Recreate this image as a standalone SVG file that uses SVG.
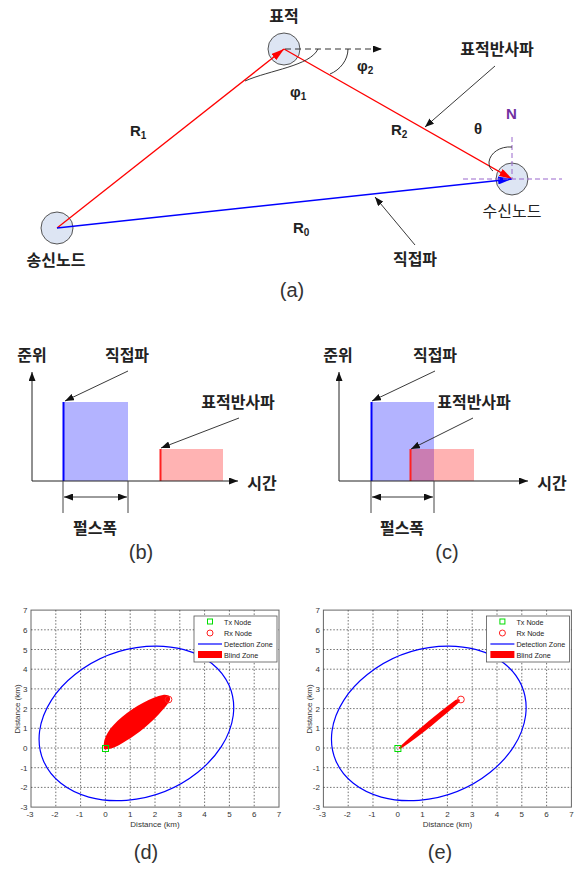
<svg xmlns="http://www.w3.org/2000/svg" width="581" height="870" viewBox="0 0 581 870">
<style>
.ko{font-family:"Noto Sans CJK KR","Noto Sans",sans-serif;font-size:16px;font-weight:bold;fill:#222;text-anchor:middle}
.lat{font-family:"Liberation Sans",Arial,sans-serif;font-weight:bold;font-size:15px;fill:#222}
.cap{font-family:"Liberation Sans",Arial,sans-serif;font-size:20px;fill:#333;text-anchor:middle}
.tick{font-family:"Liberation Sans",Arial,sans-serif;font-size:8px;fill:#333}
.leg{font-family:"Liberation Sans",Arial,sans-serif;font-size:7.2px;fill:#222}
.node{fill:#dde5f3;stroke:#555;stroke-width:1}
.grid{stroke:#333;stroke-width:0.7;stroke-dasharray:1.5 1.8;fill:none}
.ann{stroke:#222;stroke-width:0.9;fill:none}
.ax{stroke:#222;stroke-width:1;fill:none}
</style>
<defs>
<marker id="mr" markerWidth="13" markerHeight="8" refX="13" refY="4" orient="auto" markerUnits="userSpaceOnUse"><path d="M0,0 L13,4 L0,8 Z" fill="#ff0000"/></marker>
<marker id="mb" markerWidth="14" markerHeight="8" refX="14" refY="4" orient="auto" markerUnits="userSpaceOnUse"><path d="M0,0 L14,4 L0,8 Z" fill="#0000ff"/></marker>
<marker id="mk" markerWidth="9" markerHeight="7" refX="9" refY="3.5" orient="auto-start-reverse" markerUnits="userSpaceOnUse"><path d="M0,0 L9,3.5 L0,7 Z" fill="#111"/></marker>
</defs>
<rect width="581" height="870" fill="#fff"/>

<!-- (a) nodes -->
<g id="tx-node">
<circle class="node" cx="57" cy="228" r="16"/>
<text class="ko" x="56" y="266">송신노드</text>
</g>
<g id="target-node">
<circle class="node" cx="284" cy="49" r="16"/>
<text class="ko" x="284" y="22">표적</text>
</g>
<g id="rx-node">
<circle class="node" cx="512" cy="179" r="16"/>
<text class="ko" x="512" y="217" style="font-weight:normal">수신노드</text>
</g>

<g id="connectors">
<line x1="57" y1="228" x2="284" y2="49" stroke="#ff0000" stroke-width="1.3" marker-end="url(#mr)"/>
<line x1="284" y1="49" x2="512" y2="179" stroke="#ff0000" stroke-width="1.3" marker-end="url(#mr)"/>
<line x1="57" y1="228" x2="512" y2="179" stroke="#0000ff" stroke-width="1.6" marker-end="url(#mb)"/>
<line x1="285" y1="49" x2="382" y2="49" stroke="#333" stroke-width="1" stroke-dasharray="6 4" marker-end="url(#mk)"/>
<path d="M245,81 C270,70 310,66 318,49" class="ann"/>
<path d="M348,49 C348,60 340,70 330,74" class="ann"/>
<line x1="512" y1="137" x2="512" y2="179" stroke="#9966cc" stroke-width="1" stroke-dasharray="5 3"/>
<line x1="463" y1="179" x2="562" y2="179" stroke="#9966cc" stroke-width="1" stroke-dasharray="5 3"/>
<path d="M512,147 C500,146 490,153 489,162 C489,166 490,169 493,171" class="ann"/>
<line x1="495" y1="66" x2="425" y2="127" class="ann" marker-end="url(#mk)"/>
<line x1="415" y1="245" x2="375" y2="197" class="ann" marker-end="url(#mk)"/>
</g>

<g id="labels-a">
<text class="lat" x="130" y="136">R<tspan font-size="10" dy="3">1</tspan></text>
<text class="lat" x="391" y="135">R<tspan font-size="10" dy="3">2</tspan></text>
<text class="lat" x="293" y="233">R<tspan font-size="10" dy="3">0</tspan></text>
<text class="lat" x="290" y="97">φ<tspan font-size="10" dy="3">1</tspan></text>
<text class="lat" x="357" y="71">φ<tspan font-size="10" dy="3">2</tspan></text>
<text class="lat" x="474" y="134">θ</text>
<text class="lat" x="506" y="119" style="fill:#7030a0">N</text>
<text class="ko" x="497" y="55">표적반사파</text>
<text class="ko" x="415" y="265">직접파</text>
<text class="cap" x="292" y="297">(a)</text>
</g>

<!-- (b) -->
<g id="chart-b">
<rect x="63" y="402" width="65" height="79" fill="#b3b3ff"/>
<line x1="63.5" y1="402" x2="63.5" y2="481" stroke="#0000ff" stroke-width="2"/>
<rect x="160" y="449" width="63" height="32" fill="#ffb3b3"/>
<line x1="160.5" y1="449" x2="160.5" y2="481" stroke="#ff2020" stroke-width="2"/>
<line x1="32" y1="481" x2="32" y2="372" class="ax" marker-end="url(#mk)"/>
<line x1="32" y1="481" x2="238" y2="481" class="ax" marker-end="url(#mk)"/>
<line x1="63" y1="481" x2="63" y2="513" stroke="#444" stroke-width="1"/>
<line x1="128" y1="481" x2="128" y2="513" stroke="#444" stroke-width="1"/>
<line x1="64" y1="497" x2="127" y2="497" class="ann" marker-start="url(#mk)" marker-end="url(#mk)"/>
<line x1="128" y1="371" x2="65" y2="401" class="ann" marker-end="url(#mk)"/>
<line x1="239" y1="418" x2="161" y2="448" class="ann" marker-end="url(#mk)"/>
<text class="ko" x="32" y="361">준위</text>
<text class="ko" x="127" y="361">직접파</text>
<text class="ko" x="238" y="408">표적반사파</text>
<text class="ko" x="262" y="489">시간</text>
<text class="ko" x="95" y="534">펄스폭</text>
<text class="cap" x="141" y="559">(b)</text>
</g>

<!-- (c) -->
<g id="chart-c">
<rect x="371" y="402" width="63" height="79" fill="#b3b3ff"/>
<line x1="371.5" y1="402" x2="371.5" y2="481" stroke="#0000ff" stroke-width="2"/>
<rect x="410" y="449" width="64" height="32" fill="#ff0000" fill-opacity="0.3"/>
<line x1="410.5" y1="449" x2="410.5" y2="481" stroke="#ff2020" stroke-width="2"/>
<line x1="339" y1="481" x2="339" y2="372" class="ax" marker-end="url(#mk)"/>
<line x1="339" y1="481" x2="528" y2="481" class="ax" marker-end="url(#mk)"/>
<line x1="371" y1="481" x2="371" y2="513" stroke="#444" stroke-width="1"/>
<line x1="434" y1="481" x2="434" y2="513" stroke="#444" stroke-width="1"/>
<line x1="372" y1="497" x2="433" y2="497" class="ann" marker-start="url(#mk)" marker-end="url(#mk)"/>
<line x1="435" y1="371" x2="372" y2="401" class="ann" marker-end="url(#mk)"/>
<line x1="473" y1="418" x2="411" y2="449" class="ann" marker-end="url(#mk)"/>
<text class="ko" x="338" y="361">준위</text>
<text class="ko" x="435" y="361">직접파</text>
<text class="ko" x="474" y="408">표적반사파</text>
<text class="ko" x="552" y="489">시간</text>
<text class="ko" x="402" y="534">펄스폭</text>
<text class="cap" x="447" y="559">(c)</text>
</g>

<!-- (d) -->
<g id="plot-d">
<rect x="31" y="610.1" width="248" height="197" fill="#fff" stroke="#666" stroke-width="1"/>
<path class="grid" d="M55.8,610.1V807.1M80.6,610.1V807.1M105.4,610.1V807.1M130.2,610.1V807.1M155,610.1V807.1M179.8,610.1V807.1M204.6,610.1V807.1M229.4,610.1V807.1M254.2,610.1V807.1M31,629.8H279M31,649.5H279M31,669.2H279M31,688.9H279M31,708.6H279M31,728.3H279M31,748H279M31,767.7H279M31,787.4H279"/>
<g class="tick" text-anchor="end">
<text x="27.5" y="613.1">7</text><text x="27.5" y="632.8">6</text><text x="27.5" y="652.5">5</text><text x="27.5" y="672.2">4</text><text x="27.5" y="691.9">3</text><text x="27.5" y="711.6">2</text><text x="27.5" y="731.3">1</text><text x="27.5" y="751">0</text><text x="27.5" y="770.7">-1</text><text x="27.5" y="790.4">-2</text><text x="27.5" y="810.1">-3</text>
</g>
<g class="tick" text-anchor="middle">
<text x="30" y="817">-3</text><text x="54.8" y="817">-2</text><text x="79.6" y="817">-1</text><text x="105.4" y="817">0</text><text x="130.2" y="817">1</text><text x="155" y="817">2</text><text x="179.8" y="817">3</text><text x="204.6" y="817">4</text><text x="229.4" y="817">5</text><text x="254.2" y="817">6</text><text x="279" y="817">7</text>
</g>
<text class="tick" x="155" y="827" text-anchor="middle">Distance (km)</text>
<text class="tick" transform="translate(19.5 709) rotate(-90)" text-anchor="middle">Distance (km)</text>
<g transform="translate(105.4 748) scale(24.8 -19.7)"><ellipse cx="0" cy="0" rx="4.304" ry="3.504" transform="translate(1.25 1.25) rotate(45)" fill="none" stroke="#0000ff" stroke-width="1.2" vector-effect="non-scaling-stroke"/></g>
<path d="M104,749 C102,738 110,727 122,717 C135,706 152,697 163,695 C169,694 172,698 169,702 C162,712 148,726 135,735 C122,744 110,751 104,749 Z" fill="#ff0000"/>
<rect x="102.5" y="745.5" width="6" height="6" fill="none" stroke="#00dd00" stroke-width="1"/>
<circle cx="168.5" cy="699.5" r="3.4" fill="none" stroke="#ff2020" stroke-width="1"/>
<rect x="194" y="616" width="83" height="46" fill="#fff" stroke="#555" stroke-width="0.8"/>
<rect x="207.5" y="619" width="5" height="5" fill="none" stroke="#00dd00" stroke-width="1"/>
<circle cx="210" cy="633" r="3" fill="none" stroke="#ff2020" stroke-width="1"/>
<line x1="198" y1="644" x2="222" y2="644" stroke="#0000ff" stroke-width="1.2"/>
<rect x="198" y="651" width="24" height="7" fill="#ff0000"/>
<text class="leg" x="224" y="625">Tx Node</text>
<text class="leg" x="224" y="636">Rx Node</text>
<text class="leg" x="224" y="647">Detection Zone</text>
<text class="leg" x="224" y="658">Blind Zone</text>
<text class="cap" x="146" y="859">(d)</text>
</g>

<!-- (e) -->
<g id="plot-e" transform="translate(292.4 0)">
<rect x="31" y="610.1" width="248" height="197" fill="#fff" stroke="#666" stroke-width="1"/>
<path class="grid" d="M55.8,610.1V807.1M80.6,610.1V807.1M105.4,610.1V807.1M130.2,610.1V807.1M155,610.1V807.1M179.8,610.1V807.1M204.6,610.1V807.1M229.4,610.1V807.1M254.2,610.1V807.1M31,629.8H279M31,649.5H279M31,669.2H279M31,688.9H279M31,708.6H279M31,728.3H279M31,748H279M31,767.7H279M31,787.4H279"/>
<g class="tick" text-anchor="end">
<text x="27.5" y="613.1">7</text><text x="27.5" y="632.8">6</text><text x="27.5" y="652.5">5</text><text x="27.5" y="672.2">4</text><text x="27.5" y="691.9">3</text><text x="27.5" y="711.6">2</text><text x="27.5" y="731.3">1</text><text x="27.5" y="751">0</text><text x="27.5" y="770.7">-1</text><text x="27.5" y="790.4">-2</text><text x="27.5" y="810.1">-3</text>
</g>
<g class="tick" text-anchor="middle">
<text x="30" y="817">-3</text><text x="54.8" y="817">-2</text><text x="79.6" y="817">-1</text><text x="105.4" y="817">0</text><text x="130.2" y="817">1</text><text x="155" y="817">2</text><text x="179.8" y="817">3</text><text x="204.6" y="817">4</text><text x="229.4" y="817">5</text><text x="254.2" y="817">6</text><text x="279" y="817">7</text>
</g>
<text class="tick" x="155" y="827" text-anchor="middle">Distance (km)</text>
<text class="tick" transform="translate(19.5 709) rotate(-90)" text-anchor="middle">Distance (km)</text>
<g transform="translate(105.4 748) scale(24.8 -19.7)"><ellipse cx="0" cy="0" rx="4.304" ry="3.504" transform="translate(1.25 1.25) rotate(45)" fill="none" stroke="#0000ff" stroke-width="1.2" vector-effect="non-scaling-stroke"/></g>
<path d="M106,748 C127,728 147,712 163,700 C167,698 169,700 166,703 C151,716 129,735 108,749 Z" fill="#ff0000"/>
<rect x="102.5" y="745.5" width="6" height="6" fill="none" stroke="#00dd00" stroke-width="1"/>
<circle cx="168.5" cy="699.5" r="3.4" fill="none" stroke="#ff2020" stroke-width="1"/>
<rect x="194" y="616" width="83" height="46" fill="#fff" stroke="#555" stroke-width="0.8"/>
<rect x="207.5" y="619" width="5" height="5" fill="none" stroke="#00dd00" stroke-width="1"/>
<circle cx="210" cy="633" r="3" fill="none" stroke="#ff2020" stroke-width="1"/>
<line x1="198" y1="644" x2="222" y2="644" stroke="#0000ff" stroke-width="1.2"/>
<rect x="198" y="651" width="24" height="7" fill="#ff0000"/>
<text class="leg" x="224" y="625">Tx Node</text>
<text class="leg" x="224" y="636">Rx Node</text>
<text class="leg" x="224" y="647">Detection Zone</text>
<text class="leg" x="224" y="658">Blind Zone</text>
<text class="cap" x="147.6" y="859">(e)</text>
</g>
</svg>
